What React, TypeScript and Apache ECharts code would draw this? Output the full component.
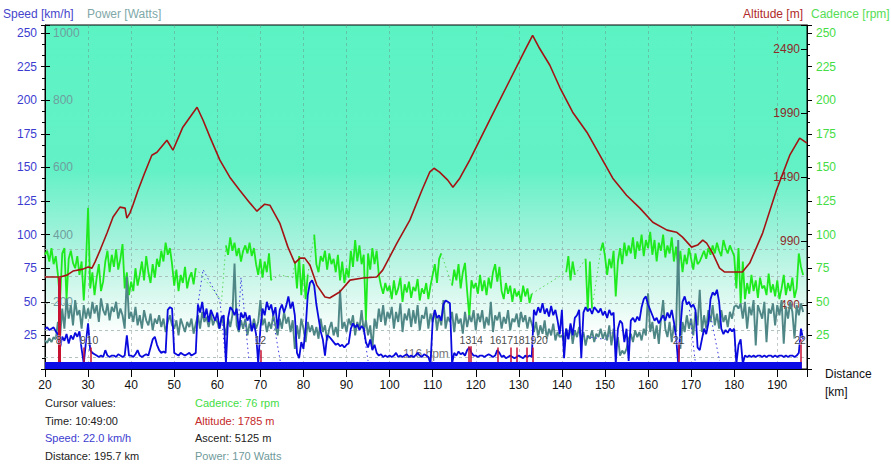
import React, { useEffect, useRef } from "react";
import * as echarts from "echarts";

const FONT = '"Liberation Sans", Arial, Helvetica, sans-serif';

// ---- axes ----
const X_MIN = 20;
const X_MAX = 196.9;
const START_KM = 20;
const STEP_KM = 0.5;

// ---- altitude profile (km, m) ----
const altitudeKm = [20.0, 23.5, 25.1, 26.5, 28.8, 30.0, 30.9, 31.6, 32.8, 34.4, 35.8, 37.4, 38.6, 39.0, 39.7, 40.4, 41.6, 43.2, 44.8, 46.0, 48.3, 49.7, 52.0, 55.3, 56.7, 58.3, 60.6, 62.9, 65.2, 67.6, 69.2, 71.0, 72.2, 74.5, 76.4, 78.0, 79.2, 80.3, 81.5, 83.1, 85.0, 86.1, 88.4, 90.8, 93.8, 97.0, 98.4, 101.7, 104.7, 107.5, 109.3, 110.3, 111.6, 113.5, 114.7, 116.3, 118.6, 123.2, 127.9, 131.4, 133.2, 134.8, 137.2, 139.5, 142.5, 145.8, 148.8, 151.8, 155.0, 158.1, 161.1, 164.4, 166.6, 168.0, 170.1, 171.5, 172.7, 173.6, 175.0, 176.6, 177.8, 181.9, 183.6, 186.6, 189.8, 192.9, 195.2, 196.9];
const altitudeM = [709, 709, 724, 756, 771, 787, 779, 826, 920, 1053, 1178, 1256, 1248, 1170, 1209, 1271, 1388, 1529, 1662, 1685, 1779, 1701, 1881, 2037, 1935, 1803, 1623, 1490, 1388, 1287, 1224, 1279, 1271, 1131, 943, 818, 857, 857, 803, 646, 553, 545, 592, 685, 701, 709, 763, 974, 1154, 1388, 1529, 1560, 1529, 1467, 1412, 1482, 1623, 1935, 2248, 2482, 2599, 2498, 2365, 2193, 1998, 1842, 1662, 1482, 1349, 1248, 1138, 1076, 1060, 1021, 943, 959, 998, 974, 896, 779, 748, 748, 818, 1053, 1388, 1662, 1795, 1756];

// ---- speed km/h, every 0.5 km from 20 km ----
const speedKmh = [
  30, 31, 29, 30, 31, 28, 26, 16, 24, 21, 26, 19, 25, 22, 27, 24, 28, 15, 4, 20,
  34, 14, 12, 11, 10, 9, 10, 9, 14, 10, 9, 10, 10, 9, 11, 10, 9, 10, 25, 10,
  10, 9, 11, 14, 10, 9, 10, 11, 10, 16, 22, 24, 18, 14, 12, 13, 12, 44, 46, 45,
  12, 11, 10, 12, 11, 10, 11, 12, 10, 11, 12, 48, 42, 50, 38, 45, 35, 44, 40, 36,
  42, 30, 38, 40, 4, 38, 46, 44, 40, 45, 29, 42, 38, 42, 36, 40, 28, 34, 26, 4,
  30, 45, 40, 50, 44, 48, 40, 46, 30, 44, 48, 42, 47, 54, 45, 50, 40, 12, 8, 20,
  15, 30, 55, 64, 66, 62, 48, 38, 28, 22, 10, 25, 24, 22, 20, 18, 19, 17, 18, 16,
  18, 19, 30, 34, 31, 33, 29, 32, 30, 20, 16, 22, 14, 18, 12, 10, 11, 9, 10, 9,
  10, 9, 10, 12, 9, 10, 9, 10, 11, 9, 10, 9, 10, 12, 10, 9, 11, 10, 9, 4,
  36, 44, 38, 40, 36, 48, 51, 50, 49, 4, 12, 10, 13, 11, 12, 10, 14, 16, 12, 10,
  10, 9, 10, 10, 9, 10, 11, 10, 9, 10, 14, 12, 9, 10, 8, 9, 10, 9, 8, 9,
  10, 9, 8, 10, 9, 10, 9, 44, 40, 46, 42, 49, 41, 45, 39, 47, 40, 44, 36, 26,
  44, 8, 30, 22, 34, 25, 38, 40, 44, 8, 42, 46, 43, 45, 41, 46, 44, 42, 45, 40,
  43, 38, 44, 40, 42, 4, 30, 36, 34, 20, 30, 6, 36, 38, 35, 39, 36, 46, 52, 54,
  48, 44, 40, 36, 38, 34, 37, 40, 36, 42, 38, 44, 35, 24, 4, 30, 50, 54, 48, 50,
  46, 48, 44, 16, 14, 22, 30, 26, 34, 52, 57, 55, 59, 50, 30, 26, 29, 27, 30, 28,
  30, 4, 18, 22, 4, 10, 9, 10, 9, 10, 9, 10, 10, 9, 10, 9, 10, 10, 9, 10,
  9, 10, 10, 9, 10, 9, 10, 10, 9, 10, 12, 30, 22,
];

// ---- power W, every 0.5 km from 20 km ----
const powerW = [
  85, 78, 92, 80, 95, 88, 140, 96, 180, 120, 210, 150, 190, 130, 205, 160, 175, 120, 190, 150,
  180, 150, 200, 165, 190, 140, 210, 175, 160, 195, 145, 185, 170, 200, 150, 180, 160, 120, 275, 150,
  170, 140, 185, 130, 160, 120, 175, 145, 130, 165, 115, 150, 135, 160, 125, 150, 110, 140, 160, 130,
  120, 145, 100, 150, 130, 110, 140, 125, 150, 105, 135, 160, 120, 170, 140, 155, 125, 165, 130, 150,
  140, 120, 155, 130, 100, 150, 125, 160, 314, 130, 110, 145, 120, 150, 100, 135, 115, 150, 120, 140,
  205, 130, 150, 110, 140, 120, 160, 130, 100, 150, 120, 170, 135, 155, 110, 145, 60, 130, 90, 150,
  120, 80, 140, 110, 130, 100, 125, 90, 150, 110, 130, 85, 120, 140, 100, 125, 95, 236, 120, 140,
  110, 150, 130, 160, 100, 140, 120, 175, 110, 145, 100, 130, 60, 150, 120, 180, 140, 190, 130, 170,
  150, 185, 120, 170, 140, 195, 110, 165, 145, 180, 125, 175, 135, 190, 115, 160, 150, 185, 120, 165,
  140, 175, 115, 160, 130, 205, 120, 155, 140, 170, 110, 165, 135, 150, 105, 170, 125, 160, 140, 175,
  115, 165, 140, 175, 120, 155, 130, 200, 110, 160, 145, 170, 120, 155, 135, 175, 115, 150, 140, 165,
  125, 170, 140, 160, 120, 155, 135, 110, 140, 95, 130, 105, 145, 90, 120, 100, 135, 85, 110, 95,
  100, 80, 120, 90, 130, 75, 115, 95, 125, 85, 110, 70, 100, 90, 115, 80, 105, 95, 120, 90,
  110, 85, 130, 70, 120, 60, 95, 40, 55, 45, 60, 90, 105, 80, 115, 95, 110, 85, 120, 100,
  225, 110, 140, 90, 130, 75, 150, 205, 120, 95, 140, 80, 130, 110, 384, 60, 140, 110, 160, 120,
  150, 100, 170, 130, 236, 110, 160, 120, 175, 140, 190, 130, 165, 120, 175, 140, 160, 125, 170, 150,
  185, 190, 180, 195, 150, 200, 120, 185, 160, 205, 70, 190, 170, 150, 200, 80, 180, 165, 195, 130,
  190, 160, 205, 75, 185, 150, 200, 170, 90, 190, 160, 195, 170,
];

// ---- cadence rpm, every 0.5 km from 20 km (null = no reading) ----
const cadenceRpm: (number | null)[] = [
  85, 88, 80, 90, 78, 84, 70, 51, 86, 90, 52, 82, 88, 79, 75, 84, 70, 80, 51, 78,
  120, 60, 72, 55, 68, 78, 58, 65, 80, 88, 72, 85, 76, 89, 74, 82, 93, 60, 72, 55,
  65, 58, 75, 62, 70, 80, 66, 84, 72, 64, 78, 68, 82, 76, 88, 80, 94, 85, 90, 78,
  62, 74, 58, 70, 64, 76, 60, 68, 72, 63, 75, null, null, null, null, null, null, null, null, null,
  null, null, null, null, 92, 85, 98, 88, 94, 84, 90, 80, 88, 92, 86, 94, 84, 90, 78, 70,
  82, 68, 80, 72, 86, 66, null, null, null, null, null, null, null, null, null, null, 80, 60, 84, 55,
  78, 52, 70, null, null, 100, 78, 72, 84, 80, 88, 74, 86, 78, 82, 72, 85, 66, 80, 64,
  75, 68, 88, 76, 96, 80, 92, 78, 85, 36, 86, 74, 90, 78, 88, 70, 62, 56, 64, 58,
  62, 52, 66, 55, 60, 68, 50, 63, 57, 65, 53, 61, 58, 67, 51, 60, 56, 64, 52, 62,
  70, 78, 64, 82, 86, null, null, null, null, 62, 74, 66, 78, 60, 72, 79, 58, 39, 66, 60,
  64, 56, 70, 58, 66, 55, 68, 60, 72, 78, 65, 76, 58, 52, 64, 56, 62, 50, 60, 54,
  58, 50, 62, 54, 60, 49, 56, null, null, null, null, null, null, null, null, null, null, null, null, null,
  null, null, 72, 84, 66, 80, 70, null, null, null, null, 82, 43, 80, 45, null, null, null, 88, 94,
  84, 70, 82, 75, 88, 54, 80, 90, 78, 94, 84, 92, 86, 98, 82, 95, 88, 100, 84, 96,
  90, 102, 85, 96, 80, 94, 88, 100, 83, 92, 86, 98, 80, 91, 76, 88, 72, 85, 78, 90,
  82, 74, 86, 78, 80, 84, 88, 82, 90, 85, 92, 86, 94, 88, 84, 96, 90, 86, 92, 88,
  84, 60, 90, 49, 80, 52, 64, 56, 70, 58, 66, 53, 68, 60, 62, 55, 71, 57, 63, 54,
  66, 52, 60, 70, 55, 64, 58, 68, 53, 60, 86, 76, 70,
];

// ---- dotted (bridged) stretches: [km, value] ----
const cadenceBridges: number[][][] = [
  [[55.0, 75], [61.0, 51], [62.0, 92]],
  [[72.5, 66], [74.5, 70], [77.5, 68], [78.0, 80]],
  [[81.0, 70], [82.5, 100]],
  [[112.0, 86], [114.5, 62]],
  [[133.0, 56], [141.0, 72]],
  [[143.0, 70], [145.5, 82]],
  [[147.0, 45], [149.0, 88]],
];
const speedBridges: number[][][] = [
  [[55.5, 48], [56.7, 74], [60.6, 51], [62.0, 4]],
  [[65.0, 40], [65.5, 68], [67.3, 8]],
  [[72.8, 40], [74.6, 6]],
  [[93.9, 30], [95.0, 6]],
  [[140.3, 26], [142.0, 30], [146.0, 24], [150.0, 22], [151.9, 28]],
  [[169.6, 44], [171.0, 4]],
  [[172.5, 22], [174.5, 40], [176.6, 6]],
];

// ---- laps ----
const lapKm = [23.2, 29.0, 30.6, 70.0, 118.4, 118.9, 125.0, 128.1, 129.5, 131.8, 133.2, 167.1, 195.5];
const lapLabelKm = [23.2, 28.8, 31.0, 70.0, 117.6, 120.3, 124.6, 127.3, 130.0, 132.7, 135.4, 167.1, 195.3];
const lapLabels = ["8", "9", "10", "12", "13", "14", "16", "17", "18", "19", "20", "21", "22"];
const lapMarkTop = [68, 16, 16, 14, 17, 17, 16, 16, 16, 16, 16, 20, 22];

// ---- misc ----
const gridLevels = [9, 29, 49, 69.2, 89.3];
const cursorKm = 195.7;
const movingBandLevel = 2.6;
const lapLabelLevel = 21.6;

const cursorLeft = ["Cursor values:", "Time: 10:49:00", "Speed: 22.0 km/h", "Distance: 195.7 km"];
const cursorRight = ["Cadence: 76 rpm", "Altitude: 1785 m", "Ascent: 5125 m", "Power: 170 Watts"];

const C_SPEED = "#0a0ade";
const C_SPEED_TXT = "#3c3cd0";
const C_POWER = "#4f8686";
const C_POWER_TXT = "#6f9e9e";
const C_ALT = "#a41414";
const C_ALT_TXT = "#8e2a2a";
const C_CAD = "#1eea1e";
const C_CAD_TXT = "#44dd44";

function gridSeries(values: (number | null)[]) {
  return values.map((v, i) => [START_KM + i * STEP_KM, v == null ? "-" : v]);
}

function buildOption() {
  const txt = (text: string, x: number, y: number, fill: string, size = 12, align = "left") => ({
    type: "text",
    x,
    y,
    silent: true,
    style: { text, fill, fontSize: size, fontFamily: FONT, align, verticalAlign: "middle" },
  });

  const graphics: any[] = [
    txt("Speed [km/h]", 3, 14, "#4646cc"),
    txt("Power [Watts]", 87, 14, "#80a8a8"),
    txt("Altitude [m]", 743, 14, "#b02a2a"),
    txt("Cadence [rpm]", 811, 14, "#55dd55"),
    txt("Distance", 825, 374, "#111"),
    txt("[km]", 825, 392, "#111"),
    txt("116 bpm", 403, 354, "#777"),
  ];
  const leftColors = ["#222", "#222", C_SPEED_TXT, "#222"];
  const rightColors = [C_CAD_TXT, "#c42a2a", "#222", "#6f9a9a"];
  cursorLeft.forEach((t, i) => graphics.push(txt(t, 45, 403 + i * 17.7, leftColors[i], 11)));
  cursorRight.forEach((t, i) => graphics.push(txt(t, 195, 403 + i * 17.7, rightColors[i], 11)));

  const bg = new echarts.graphic.LinearGradient(0, 0, 0, 1, [
    { offset: 0, color: "#5cf3c3" },
    { offset: 0.42, color: "#63f1c6" },
    { offset: 0.62, color: "#a2f2db" },
    { offset: 0.78, color: "#d8f8ee" },
    { offset: 0.9, color: "#ffffff" },
    { offset: 1, color: "#ffffff" },
  ]);

  const baseLine = { type: "line", showSymbol: false, symbol: "none", silent: true, smooth: false, connectNulls: false };

  const series: any[] = [
    {
      type: "lines",
      coordinateSystem: "cartesian2d",
      xAxisIndex: 0,
      yAxisIndex: 0,
      silent: true,
      z: 1,
      lineStyle: { color: "#9fb3b0", opacity: 0.8, width: 1, type: [3, 3] },
      data: gridLevels.map((l) => ({ coords: [[X_MIN, l], [X_MAX, l]] })),
    },
    {
      ...baseLine,
      name: "Cadence",
      yAxisIndex: 4,
      z: 2,
      lineStyle: { color: C_CAD, width: 1.8 },
      data: gridSeries(cadenceRpm),
    },
    ...cadenceBridges.map((seg) => ({
      ...baseLine,
      yAxisIndex: 4,
      z: 2,
      lineStyle: { color: "#5ad85a", width: 1, type: [1.5, 3] },
      data: seg,
    })),
    {
      ...baseLine,
      name: "Power",
      yAxisIndex: 2,
      z: 3,
      lineStyle: { color: C_POWER, width: 1.9 },
      data: gridSeries(powerW),
    },
    ...speedBridges.map((seg) => ({
      ...baseLine,
      yAxisIndex: 0,
      z: 3,
      lineStyle: { color: "#3a3ae0", width: 1, type: [1.5, 3] },
      data: seg,
    })),
    {
      ...baseLine,
      name: "Speed",
      yAxisIndex: 0,
      z: 4,
      lineStyle: { color: C_SPEED, width: 1.8 },
      data: gridSeries(speedKmh),
    },
    {
      ...baseLine,
      name: "Altitude",
      yAxisIndex: 3,
      z: 5,
      lineStyle: { color: C_ALT, width: 1.6 },
      data: altitudeKm.map((k, i) => [k, altitudeM[i]]),
    },
    {
      type: "lines",
      coordinateSystem: "cartesian2d",
      xAxisIndex: 0,
      yAxisIndex: 0,
      silent: true,
      z: 6,
      lineStyle: { color: "#c81030", width: 1.5, opacity: 1 },
      data: lapKm.map((k, i) => ({
        coords: [[k, 0], [k, lapMarkTop[i]]],
        lineStyle: { width: i === 0 ? 3 : 1.5, color: "#c81030", opacity: 1 },
      })),
    },
    {
      type: "lines",
      coordinateSystem: "cartesian2d",
      xAxisIndex: 0,
      yAxisIndex: 0,
      silent: true,
      z: 7,
      lineStyle: { color: "#0c0ce6", width: 7, cap: "butt", opacity: 1 },
      data: [{ coords: [[X_MIN, movingBandLevel], [cursorKm, movingBandLevel]] }],
    },
    {
      type: "scatter",
      xAxisIndex: 0,
      yAxisIndex: 0,
      silent: true,
      z: 20,
      zlevel: 0,
      symbolSize: 1,
      itemStyle: { color: "rgba(0,0,0,0)" },
      label: {
        show: true,
        position: "inside",
        formatter: "{b}",
        color: "#111",
        fontSize: 10.5,
        fontFamily: FONT,
        textBorderColor: "rgba(255,255,255,0.6)",
        textBorderWidth: 1.5,
      },
      labelLayout: { hideOverlap: false },
      data: lapLabelKm.map((k, i) => ({ value: [k, lapLabelLevel], name: lapLabels[i] })),
    },
  ];

  const blk = { color: "#000", width: 1 };
  return {
    animation: false,
    backgroundColor: "#ffffff",
    textStyle: { fontFamily: FONT },
    grid: {
      left: 45,
      right: 84,
      top: 25,
      bottom: 98,
      show: true,
      borderColor: "#000",
      borderWidth: 1,
      backgroundColor: bg,
    },
    graphic: graphics,
    xAxis: {
      type: "value",
      min: X_MIN,
      max: X_MAX,
      interval: 10,
      axisLine: { show: true, lineStyle: blk },
      axisTick: { show: true, length: 8, lineStyle: blk },
      axisLabel: {
        color: "#111",
        fontSize: 12,
        fontFamily: FONT,
        margin: 10,
        formatter: (v: number) => (Math.abs(v % 10) < 1e-6 ? String(v) : ""),
      },
      splitLine: { show: true, lineStyle: { color: "rgba(110,125,125,0.4)", width: 1, type: [3, 3] } },
    },
    yAxis: [
      {
        type: "value",
        position: "left",
        min: 0,
        max: 256,
        interval: 25,
        axisLine: { show: true, lineStyle: blk },
        axisTick: { show: true, length: 4, lineStyle: blk },
        minorTick: { show: true, splitNumber: 3, length: 3, lineStyle: blk },
        axisLabel: {
          color: C_SPEED_TXT,
          fontSize: 12,
          fontFamily: FONT,
          margin: 8,
          formatter: (v: number) => (v > 0 && v <= 250 && v % 25 === 0 ? String(v) : ""),
        },
        splitLine: { show: false },
      },
      {
        type: "value",
        position: "left",
        min: 0,
        max: 256,
        interval: 25,
        axisLine: { show: false },
        axisTick: { show: true, inside: true, length: 5, lineStyle: blk },
        axisLabel: { show: false },
        splitLine: { show: false },
      },
      {
        type: "value",
        position: "left",
        min: 0,
        max: 1024,
        interval: 200,
        axisLine: { show: false },
        axisTick: { show: false },
        axisLabel: {
          inside: true,
          color: C_POWER_TXT,
          fontSize: 12,
          fontFamily: FONT,
          margin: 8,
          formatter: (v: number) => (v > 0 && v <= 1000 ? String(v) : ""),
        },
        splitLine: { show: false },
      },
      {
        type: "value",
        position: "right",
        min: -10,
        max: 2680,
        interval: 500,
        axisLine: { show: false },
        axisTick: { show: true, inside: true, length: 6, lineStyle: blk },
        axisLabel: {
          inside: true,
          color: C_ALT_TXT,
          fontSize: 12,
          fontFamily: FONT,
          margin: 7,
          formatter: (v: number) => (v > 0 && v < 2600 ? String(v) : ""),
        },
        splitLine: { show: false },
      },
      {
        type: "value",
        position: "right",
        min: 0,
        max: 256,
        interval: 25,
        axisLine: { show: true, lineStyle: blk },
        axisTick: { show: true, length: 5, lineStyle: blk },
        minorTick: { show: true, splitNumber: 3, length: 3, lineStyle: blk },
        axisLabel: {
          color: C_CAD_TXT,
          fontSize: 12,
          fontFamily: FONT,
          margin: 9,
          formatter: (v: number) => (v > 0 && v <= 250 && v % 25 === 0 ? String(v) : ""),
        },
        splitLine: { show: false },
      },
    ],
    series,
  };
}

export default function App() {
  const ref = useRef<HTMLDivElement>(null);
  useEffect(() => {
    if (!ref.current) return;
    const chart = echarts.init(ref.current, undefined, { renderer: "svg" });
    chart.setOption(buildOption() as any);
    return () => chart.dispose();
  }, []);
  return <div ref={ref} style={{ position: "fixed", left: 0, top: 0, width: 891, height: 467 }} />;
}
